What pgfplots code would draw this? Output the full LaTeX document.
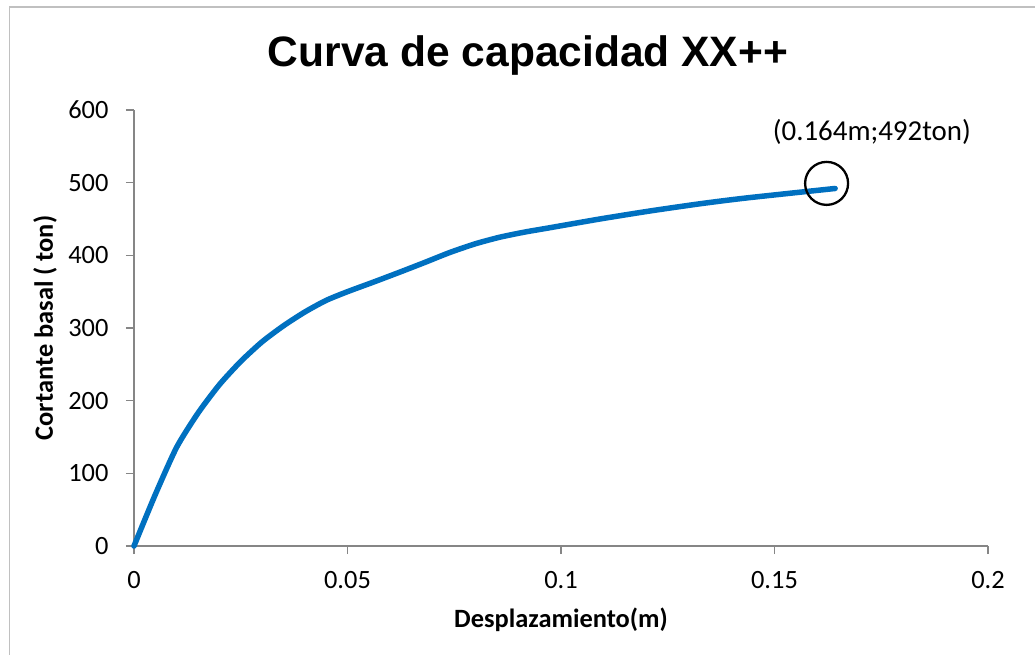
\documentclass[border=0pt]{standalone}
\usepackage{fontspec}
\setmainfont{Carlito}
\newfontfamily\titlefont{Liberation Sans}
\usepackage{pgfplots}
\pgfplotsset{compat=1.18}
\definecolor{axgray}{RGB}{134,134,134}
\definecolor{bordergray}{RGB}{192,192,192}
\definecolor{xlblue}{RGB}{0,112,192}
\newcommand{\tickfont}{\fontsize{26.5}{30}\selectfont}

\begin{document}
\begin{tikzpicture}
\useasboundingbox (0,0) rectangle (1035bp,655bp);
\fill[white] (0,0) rectangle (1035bp,655bp);
\draw[bordergray, line width=1.3bp] (9.5bp,-5bp) -- (9.5bp,648bp) -- (1045bp,648bp);
\begin{axis}[at={(134bp,109bp)}, anchor=south west,
  scale only axis, width=854bp, height=436bp,
  xmin=0, xmax=0.2, ymin=0, ymax=600,
  axis x line*=bottom, axis y line*=left,
  axis line style={-, axgray, line width=1.3bp},
  xtick={0,0.05,0.1,0.15,0.2}, xticklabels={0,0.05,0.1,0.15,0.2},
  ytick={0,100,200,300,400,500,600}, scaled ticks=false,
  tick align=outside, major tick length=8bp,
  tick style={axgray, line width=1.3bp},
  /pgf/number format/assume math mode=true,
  ticklabel style={font=\tickfont, text=black},
  xticklabel style={yshift=-14bp},
  yticklabel style={xshift=-14bp},
  xlabel={Desplazamiento(m)}, ylabel={Cortante basal ( ton)},
  every axis x label/.style={at={(axis description cs:0.5,-0.188)}, anchor=base, font=\tickfont\bfseries},
  every axis y label/.style={at={(axis description cs:-0.1042,0.5)}, anchor=center, rotate=90, font=\tickfont\bfseries},
  clip=false]
% curva pushover, valores
\addplot[xlblue, line width=5.5bp, smooth, tension=0.4, line join=round, line cap=round] coordinates {
  (0,0) (0.005,71) (0.010,136) (0.015,183) (0.020,222) (0.025,254)
  (0.030,281) (0.035,303) (0.040,322) (0.045,338) (0.050,350) (0.056,363)
  (0.0623,377) (0.068,390) (0.074,404) (0.080,416) (0.0857,425) (0.0915,432)
  (0.0974,438) (0.1091,450) (0.1208,461) (0.1326,471) (0.1435,479) (0.1642,492)};
\draw[black, line width=2.3bp] (axis cs:0.1622,499) circle[radius=21.5bp];
\node[font=\fontsize{29}{33}\selectfont, anchor=base] at (axis cs:0.1728,558.7) {(0.164m;492ton)};
\end{axis}
\node[font=\titlefont\bfseries\fontsize{42.7}{48}\selectfont, anchor=base] at (528bp,588bp) {Curva de capacidad XX++};
\end{tikzpicture}
\end{document}
